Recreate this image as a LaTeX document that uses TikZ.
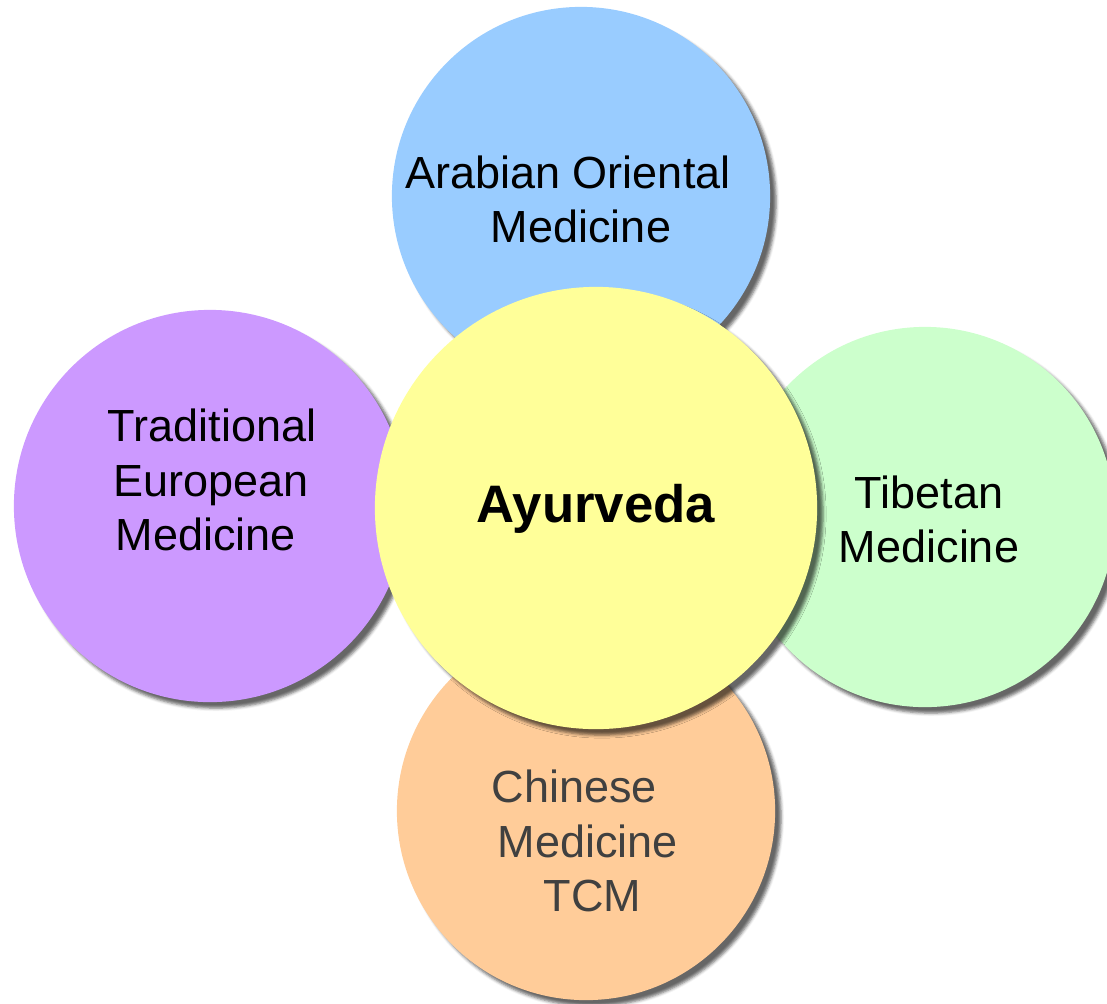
\documentclass[tikz,border=0pt]{standalone}
\usepackage{fontspec}
\setmainfont{Liberation Sans}
\usetikzlibrary{shadows.blur}

\definecolor{arabblue}{HTML}{99CCFF}
\definecolor{europurple}{HTML}{CC99FF}
\definecolor{tibetgreen}{HTML}{CCFFCC}
\definecolor{chinaorange}{HTML}{FFCC99}
\definecolor{ayuryellow}{HTML}{FFFF99}
\definecolor{tcmgray}{HTML}{404040}

\begin{document}
\begin{tikzpicture}[x=0.01cm, y=-0.01cm,
    % Estilos
    medcircle/.style={
        circle, draw=none, inner sep=0pt,
        blur shadow={shadow xshift=0.06cm, shadow yshift=-0.06cm,
            shadow blur radius=0.03cm, shadow opacity=60}
    },
    medlabel/.style={
        font=\fontsize{12.8}{15.4}\selectfont, inner sep=0pt
    }
]
\useasboundingbox (0,0) rectangle (1107,1003);

% =============================================
% CIRCULOS EXTERIORES
% =============================================

% Arabian (arriba)
\node[medcircle, fill=arabblue, minimum size=3.78cm] (arabian) at (581, 196) {};

% European (izquierda)
\node[medcircle, fill=europurple, minimum size=3.92cm] (european) at (210, 506) {};

% Tibetan (derecha)
\node[medcircle, fill=tibetgreen, minimum size=3.80cm] (tibetan) at (925, 517) {};

% Chinese (abajo)
\node[medcircle, fill=chinaorange, minimum size=3.78cm] (chinese) at (586, 811) {};

% =============================================
% CIRCULO CENTRAL
% =============================================
\node[medcircle, fill=ayuryellow, minimum size=4.42cm] (ayurveda) at (596, 508) {};

% =============================================
% TEXTOS
% =============================================
\node[medlabel, align=center] (arabian-txt) at (568, 199)
    {Arabian Oriental\\\hspace*{0.26cm}Medicine};
\node[medlabel, align=left, anchor=west] (european-txt) at (107, 480)
    {Traditional\\\hspace*{0.06cm}European\\\hspace*{0.08cm}Medicine};
\node[medlabel, align=center] (tibetan-txt) at (929, 519) {Tibetan\\Medicine};
\node[medlabel, align=left, anchor=west, text=tcmgray] (chinese-txt) at (491, 841)
    {Chinese\\\hspace*{0.06cm}Medicine\\\hspace*{0.52cm}TCM};
\node[font=\fontsize{15}{18}\selectfont\bfseries, inner sep=0pt] (ayurveda-txt) at (596, 509) {Ayurveda};

\end{tikzpicture}
\end{document}
